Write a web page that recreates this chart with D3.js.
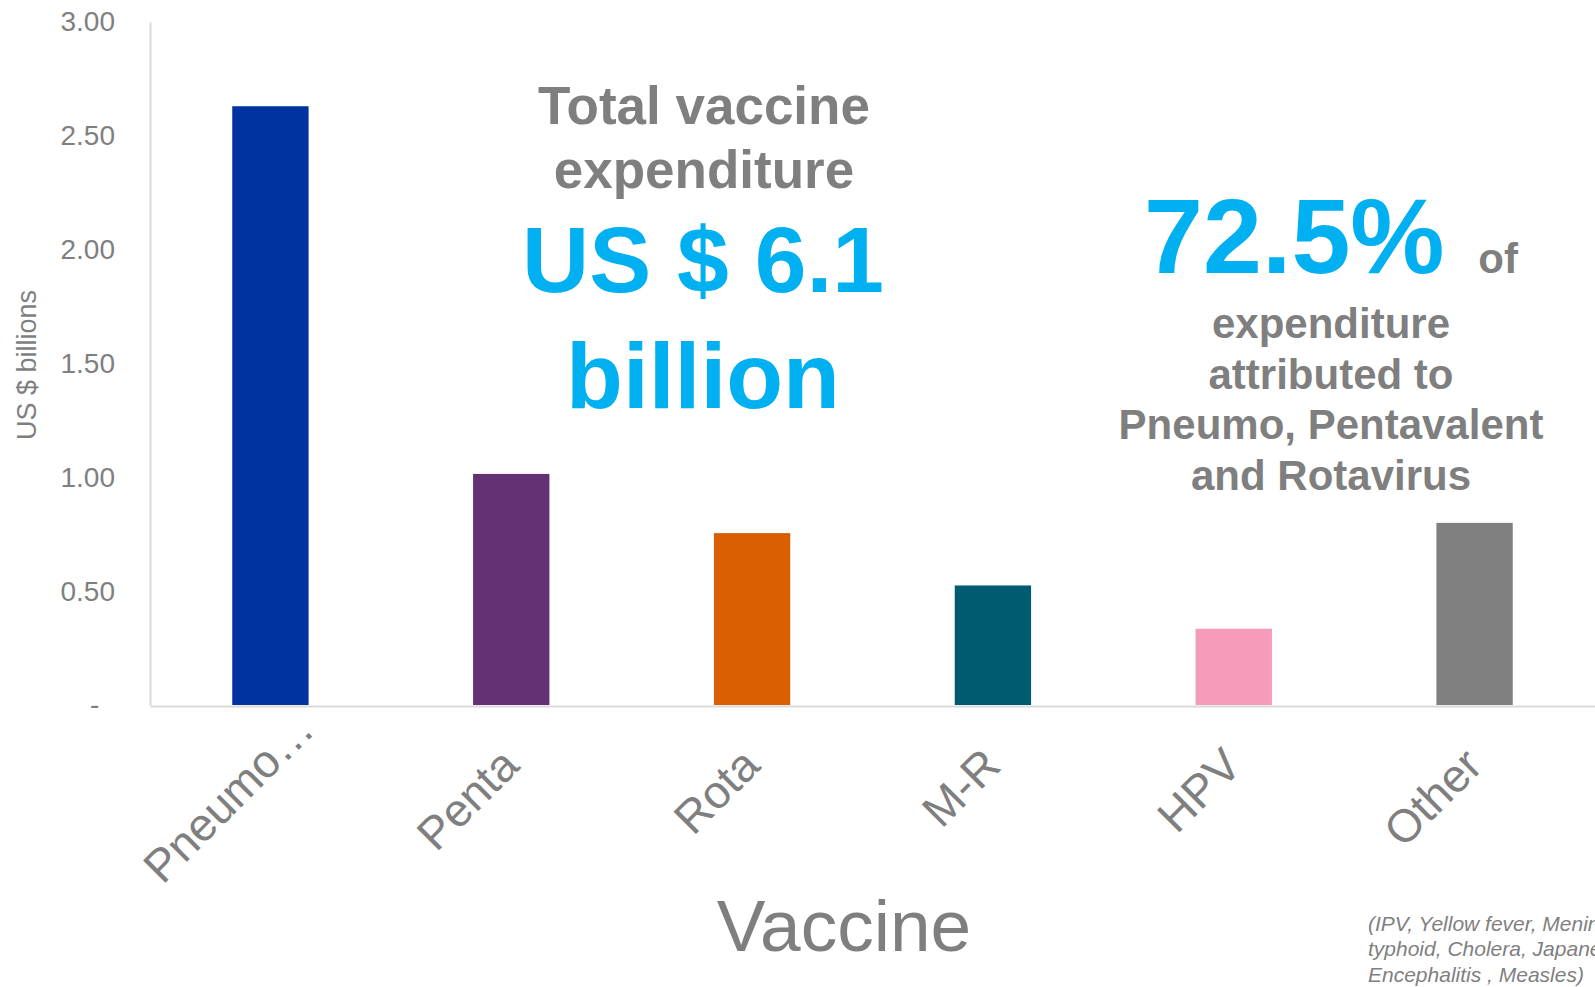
<!DOCTYPE html>
<html>
<head>
<meta charset="utf-8">
<script src="https://cdn.jsdelivr.net/npm/d3@7"></script>
<style>
  html, body { margin: 0; padding: 0; background: #ffffff; }
  svg { display: block; font-family: "Liberation Sans", Arial, Helvetica, sans-serif; }
</style>
</head>
<body>
<svg id="chart" width="1595" height="987"></svg>
<script>
// ---- data ----
const categories = ["Pneumo…", "Penta", "Rota", "M-R", "HPV", "Other"];
const values = [2.63, 1.015, 0.755, 0.525, 0.335, 0.80];
const barColors = ["#0033a0", "#633174", "#d95f02", "#005b70", "#f49cba", "#808080"];
const yTickValues = [0, 0.5, 1.0, 1.5, 2.0, 2.5, 3.0];
const yTickLabels = ["-\u00a0\u00a0", "0.50", "1.00", "1.50", "2.00", "2.50", "3.00"];
const yAxisTitle = "US $ billions";
const xAxisTitle = "Vaccine";
const totalLines = ["Total vaccine", "expenditure"];
const totalValueLines = ["US $ 6.1", "billion"];
const shareValue = "72.5%";
const shareSuffix = " of";
const shareLines = ["expenditure", "attributed to", "Pneumo, Pentavalent", "and Rotavirus"];
const footnoteLines = ["(IPV, Yellow fever, Meningitis,", "typhoid, Cholera, Japanese", "Encephalitis , Measles)"];

// ---- layout ----
const gray = "#7f7f7f";
const blue = "#00b0f0";
const axisGray = "#d9d9d9";
const plot = { left: 150, right: 1595, top: 22, bottom: 705 };

const svg = d3.select("#chart");

const x = d3.scaleBand()
  .domain(categories)
  .range([plot.left, plot.right])
  .paddingInner(0.683)
  .paddingOuter(0.3415);

const y = d3.scaleLinear()
  .domain([0, 3])
  .range([plot.bottom, plot.top]);

// bars
svg.append("g")
  .selectAll("rect")
  .data(categories)
  .join("rect")
  .attr("x", d => x(d))
  .attr("width", x.bandwidth())
  .attr("y", (d, i) => y(values[i]))
  .attr("height", (d, i) => y(0) - y(values[i]))
  .attr("fill", (d, i) => barColors[i]);

// y axis
const yAxis = d3.axisLeft(y)
  .tickValues(yTickValues)
  .tickFormat((d, i) => yTickLabels[i])
  .tickSize(0)
  .tickSizeOuter(0)
  .tickPadding(35);

const gy = svg.append("g")
  .attr("transform", `translate(${plot.left},0)`)
  .call(yAxis);
gy.select(".domain").attr("stroke", axisGray).attr("stroke-width", 2);
gy.selectAll(".tick text")
  .attr("fill", gray)
  .style("font-size", "28px")
  .style("white-space", "pre")
  .attr("font-family", null);

// x axis
const xAxis = d3.axisBottom(x).tickSize(0).tickSizeOuter(0);
const gx = svg.append("g")
  .attr("transform", `translate(0,${plot.bottom + 1})`)
  .call(xAxis);
gx.select(".domain").attr("stroke", axisGray).attr("stroke-width", 2);
gx.selectAll(".tick text")
  .attr("fill", gray)
  .attr("font-family", null)
  .style("font-size", "46px")
  .attr("x", 0).attr("y", 0).attr("dy", 0)
  .attr("dx", d => d.endsWith("…") ? 51 : 0)
  .attr("text-anchor", "end")
  .attr("transform", "translate(10,62) rotate(-45)");

// axis titles
svg.append("text")
  .attr("transform", `translate(36,365) rotate(-90)`)
  .attr("text-anchor", "middle")
  .attr("fill", gray)
  .style("font-size", "27px")
  .text(yAxisTitle);

svg.append("text")
  .attr("x", 844).attr("y", 951)
  .attr("text-anchor", "middle")
  .attr("fill", gray)
  .style("font-size", "73px")
  .text(xAxisTitle);

// total annotation
const tot = svg.append("g").attr("font-weight", "bold").attr("text-anchor", "middle");
tot.selectAll("text.l").data(totalLines).join("text")
  .attr("class", "l")
  .attr("x", 704).attr("y", (d, i) => 124 + i * 64)
  .attr("fill", gray)
  .style("font-size", "53px")
  .text(d => d);
tot.selectAll("text.v").data(totalValueLines).join("text")
  .attr("class", "v")
  .attr("x", 703).attr("y", (d, i) => 292 + i * 116)
  .attr("fill", blue)
  .style("font-size", "93px")
  .text(d => d);

// share annotation
const sh = svg.append("g").attr("font-weight", "bold").attr("text-anchor", "middle");
const shareText = sh.append("text").attr("x", 1331).attr("y", 273);
shareText.append("tspan").attr("fill", blue).style("font-size", "106px").text(shareValue);
shareText.append("tspan").attr("fill", gray).style("font-size", "42px").attr("dx", 22).text(shareSuffix);
sh.selectAll("text.s").data(shareLines).join("text")
  .attr("class", "s")
  .attr("x", 1331).attr("y", (d, i) => 338 + i * 50.7)
  .attr("fill", gray)
  .style("font-size", "42px")
  .text(d => d);

// footnote (runs past the right edge, as in the reference)
svg.append("g").selectAll("text").data(footnoteLines).join("text")
  .attr("x", 1368).attr("y", (d, i) => 931 + i * 25.3)
  .attr("fill", gray)
  .attr("font-style", "italic")
  .style("font-size", "21px")
  .text(d => d);
</script>
</body>
</html>
